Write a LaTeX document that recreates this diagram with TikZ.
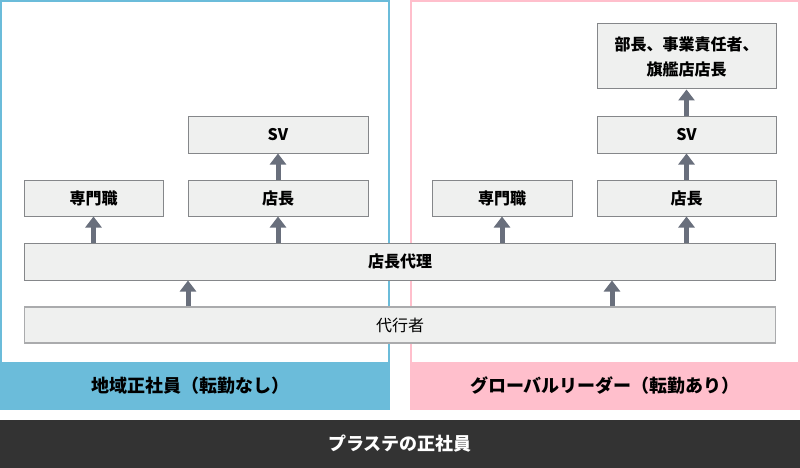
\documentclass[tikz,border=0pt]{standalone}
\usepackage{fontspec}
\setmainfont{Noto Sans CJK JP}
\usetikzlibrary{arrows.meta}
\definecolor{bluec}{HTML}{6BBCDA}
\definecolor{pinkc}{HTML}{FFBFCC}
\definecolor{darkc}{HTML}{333333}
\definecolor{boxfill}{HTML}{EFF0EF}
\definecolor{boxline}{HTML}{85878A}
\definecolor{arrowc}{HTML}{696F7C}
\tikzset{
  rolebox/.style={draw=boxline, line width=1pt, fill=boxfill, inner sep=0pt,
    font=\bfseries\fontsize{16}{25}\selectfont, text=black, align=center},
  upar/.style={draw=arrowc, line width=5pt,
    -{Triangle[width=16pt,length=11pt]}, shorten >=0pt},
  bandtext/.style={font=\bfseries\fontsize{18}{20}\selectfont, text=black},
}
\begin{document}
\begin{tikzpicture}[x=1pt,y=-1pt]
\useasboundingbox (0,0) rectangle (800,468);
% panels
\draw[bluec, line width=2pt] (1,362) -- (1,1) -- (389,1) -- (389,362);
\fill[bluec] (0,362) rectangle (390,410);
\draw[pinkc, line width=2pt] (411,362) -- (411,1) -- (799,1) -- (799,362);
\fill[pinkc] (410,362) rectangle (800,410);
\fill[darkc] (0,420) rectangle (800,468);
\node[bandtext] (bl) at (190,386) {地域正社員（転勤なし）};
\node[bandtext] (bp) at (605,386) {グローバルリーダー（転勤あり）};
\node[bandtext, text=white] (bd) at (400,444) {プラステの正社員};
% bottom boxes
\node[rolebox, minimum width=751pt, minimum height=37pt] (dairi) at (400,261.5) {店長代理};
\node[rolebox, draw=boxline!70, line width=1.5pt, font=\fontsize{16}{20}\selectfont, minimum width=751pt, minimum height=36pt] (daiko) at (400,325) {代行者};
% left column
\node[rolebox, minimum width=139pt, minimum height=36pt] (senL) at (93.5,198) {専門職};
\node[rolebox, minimum width=180pt, minimum height=36pt] (tenL) at (278,198) {店長};
\node[rolebox, minimum width=180pt, minimum height=36pt] (svL) at (278,135) {SV};
% right column
\node[rolebox, minimum width=140pt, minimum height=36pt] (senR) at (502,198) {専門職};
\node[rolebox, minimum width=179pt, minimum height=36pt] (tenR) at (686.5,198) {店長};
\node[rolebox, minimum width=179pt, minimum height=36pt] (svR) at (686.5,135) {SV};
\node[rolebox, minimum width=179pt, minimum height=65pt] (topR) at (686.5,56.5) {部長、事業責任者、\\旗艦店店長};
% arrows
\coordinate (a1) at (188,0);
\coordinate (a2) at (612,0);
\draw[upar] (daiko.north -| a1) -- (dairi.south -| a1);
\draw[upar] (daiko.north -| a2) -- (dairi.south -| a2);
\draw[upar] (dairi.north -| senL) -- (senL.south);
\draw[upar] (dairi.north -| tenL) -- (tenL.south);
\draw[upar] (dairi.north -| senR) -- (senR.south);
\draw[upar] (dairi.north -| tenR) -- (tenR.south);
\draw[upar] (tenL.north) -- (svL.south);
\draw[upar] (tenR.north) -- (svR.south);
\draw[upar] (svR.north) -- (topR.south);
\end{tikzpicture}
\end{document}
